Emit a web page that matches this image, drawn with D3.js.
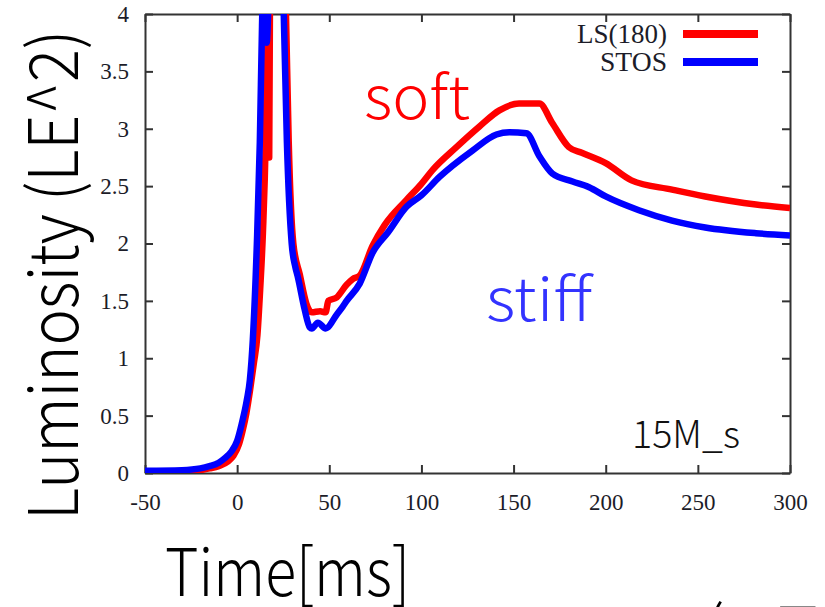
<!DOCTYPE html>
<html>
<head>
<meta charset="utf-8">
<script src="https://cdn.jsdelivr.net/npm/d3@7"></script>
<style>
  body { margin: 0; background: #fff; }
  svg { display: block; }
  .tick text { font-family: "Liberation Serif", "DejaVu Serif", serif; fill: #1c1c28; }
  .big { font-family: "Noto Sans CJK KR", "Noto Sans", sans-serif; font-weight: 300; }
</style>
</head>
<body>
<svg id="chart" width="825" height="607"></svg>
<script>
// ms vs luminosity
const timeLS = [-50, -30, -20, -15, -10, -5, -2, 1, 3, 5, 7, 9, 11, 12.5, 14, 15.5, 16.5, 16.9, 17.4, 17.9, 20, 23, 26.5, 28, 30.5, 34, 37.5, 40.5, 45, 48, 49.5, 54, 59.4, 62.7, 66.5, 73.5, 80, 91.9, 100, 106, 119, 131.5, 142.3, 153, 164, 171, 180, 187, 200, 214, 236, 254, 281.5, 300];
const lumLS  = [0.01, 0.015, 0.025, 0.04, 0.06, 0.1, 0.15, 0.25, 0.37, 0.52, 0.72, 0.95, 1.2, 1.6, 2.1, 2.9, 3.9, 4.5, 2.75, 4.5, 6.2, 6.0, 4.0, 2.88, 2.0, 1.73, 1.48, 1.40, 1.41, 1.40, 1.50, 1.53, 1.64, 1.69, 1.72, 1.98, 2.16, 2.38, 2.52, 2.64, 2.84, 3.02, 3.16, 3.22, 3.22, 3.05, 2.84, 2.79, 2.70, 2.55, 2.47, 2.41, 2.34, 2.31];

const timeSTOS = [-50, -30, -20, -15, -10, -6.7, -3, 0, 2.5, 5.3, 6.9, 8.5, 10.7, 12.3, 13.5, 14.5, 16, 17.5, 20, 23, 25.3, 27, 29.6, 31.5, 32.9, 36.7, 39.4, 40.5, 43.8, 48, 54, 57.3, 59.4, 66.5, 73.5, 82, 91.9, 100, 109.8, 127.7, 140.7, 147.7, 157, 164, 171, 182, 191, 200, 218, 236, 254, 281.5, 300];
const lumSTOS  = [0.02, 0.025, 0.04, 0.06, 0.09, 0.13, 0.19, 0.28, 0.43, 0.64, 0.81, 1.16, 2.0, 2.88, 3.9, 4.5, 3.75, 4.4, 6.0, 5.8, 4.0, 2.88, 2.0, 1.8, 1.71, 1.42, 1.27, 1.26, 1.31, 1.26, 1.38, 1.45, 1.5, 1.65, 1.92, 2.1, 2.32, 2.42, 2.58, 2.81, 2.95, 2.97, 2.96, 2.76, 2.61, 2.54, 2.49, 2.41, 2.29, 2.20, 2.14, 2.09, 2.07];

const xTicks = [-50, 0, 50, 100, 150, 200, 250, 300];
const yTicks = [0, 0.5, 1, 1.5, 2, 2.5, 3, 3.5, 4];
const seriesNames = ["LS(180)", "STOS"];
const seriesColors = ["#ff0000", "#0000ff"];

const svg = d3.select("#chart");
const margin = {top: 14, right: 35, bottom: 134, left: 145};
const W = 825, H = 607;

const x = d3.scaleLinear().domain([-50, 300]).range([margin.left, W - margin.right]);
const y = d3.scaleLinear().domain([0, 4]).range([H - margin.bottom, margin.top]);

svg.append("clipPath").attr("id", "plotclip")
  .append("rect")
  .attr("x", x(-50)).attr("y", y(4))
  .attr("width", x(300) - x(-50)).attr("height", y(0) - y(4));

// axes, ticks pointing inward on all sides
const fmt = d => String(d);
const gx = svg.append("g").attr("transform", `translate(0,${y(0)})`)
  .call(d3.axisBottom(x).tickValues(xTicks).tickFormat(fmt).tickSizeInner(-8).tickSizeOuter(0).tickPadding(25));
const gxTop = svg.append("g").attr("transform", `translate(0,${y(4)})`)
  .call(d3.axisTop(x).tickValues(xTicks).tickFormat("").tickSizeInner(-8).tickSizeOuter(0));
const gy = svg.append("g").attr("transform", `translate(${x(-50)},0)`)
  .call(d3.axisLeft(y).tickValues(yTicks).tickFormat(fmt).tickSizeInner(-8).tickSizeOuter(0).tickPadding(16));
const gyR = svg.append("g").attr("transform", `translate(${x(300)},0)`)
  .call(d3.axisRight(y).tickValues(yTicks).tickFormat("").tickSizeInner(-8).tickSizeOuter(0));

[gx, gxTop, gy, gyR].forEach(g => {
  g.select(".domain").attr("stroke", "#333").attr("stroke-width", 2);
  g.selectAll(".tick line").attr("stroke", "#333").attr("stroke-width", 2);
  g.selectAll(".tick text").attr("font-size", 23);
});
gx.selectAll(".tick text").attr("dy", "0.5em");

// curves
const line = d3.line().x(d => x(d[0])).y(d => y(d[1])).curve(d3.curveMonotoneX);
const dataLS = timeLS.map((t, i) => [t, lumLS[i]]);
const dataSTOS = timeSTOS.map((t, i) => [t, lumSTOS[i]]);

const plot = svg.append("g").attr("clip-path", "url(#plotclip)");
[dataLS, dataSTOS].forEach((d, i) => {
  plot.append("path")
    .datum(d)
    .attr("fill", "none")
    .attr("stroke", seriesColors[i])
    .attr("stroke-width", 6.5)
    .attr("stroke-linejoin", "round")
    .attr("d", line);
});

// legend
const legWidths = [90, 67];
const leg = svg.append("g");
seriesNames.forEach((name, i) => {
  const yy = 34 + i * 28;
  leg.append("text")
    .attr("x", 667).attr("y", yy + 9)
    .attr("text-anchor", "end")
    .attr("font-family", "Liberation Serif, serif")
    .attr("font-size", 27)
    .attr("fill", "#1c1c28")
    .attr("textLength", legWidths[i])
    .attr("lengthAdjust", "spacingAndGlyphs")
    .text(name);
  leg.append("line")
    .attr("x1", 683).attr("x2", 758)
    .attr("y1", yy).attr("y2", yy)
    .attr("stroke", seriesColors[i])
    .attr("stroke-width", 8);
});

// annotations
function bigText(txt, px, py, size, color, width, rotate) {
  const t = svg.append("text")
    .attr("class", "big")
    .attr("x", px).attr("y", py)
    .attr("font-size", size)
    .attr("fill", color)
    .text(txt);
  if (rotate) t.attr("transform", `rotate(-90,${px},${py})`);
  if (width) t.attr("textLength", width).attr("lengthAdjust", "spacingAndGlyphs");
  return t;
}
bigText("soft", 364, 119, 60, "#ff0000", 106);
bigText("stiff", 486, 321, 60, "#3333ff", 106);
bigText("15M_s", 632, 448, 38, "#111", 108);
bigText("Luminosity (LE^2)", 78, 520, 68, "#000", 490, true);
bigText("Time[ms]", 165, 596, 66, "#000", 245);
bigText("(", 703, 656, 68, "#000");
bigText("T", 778, 656, 68, "#888");
</script>
</body>
</html>
